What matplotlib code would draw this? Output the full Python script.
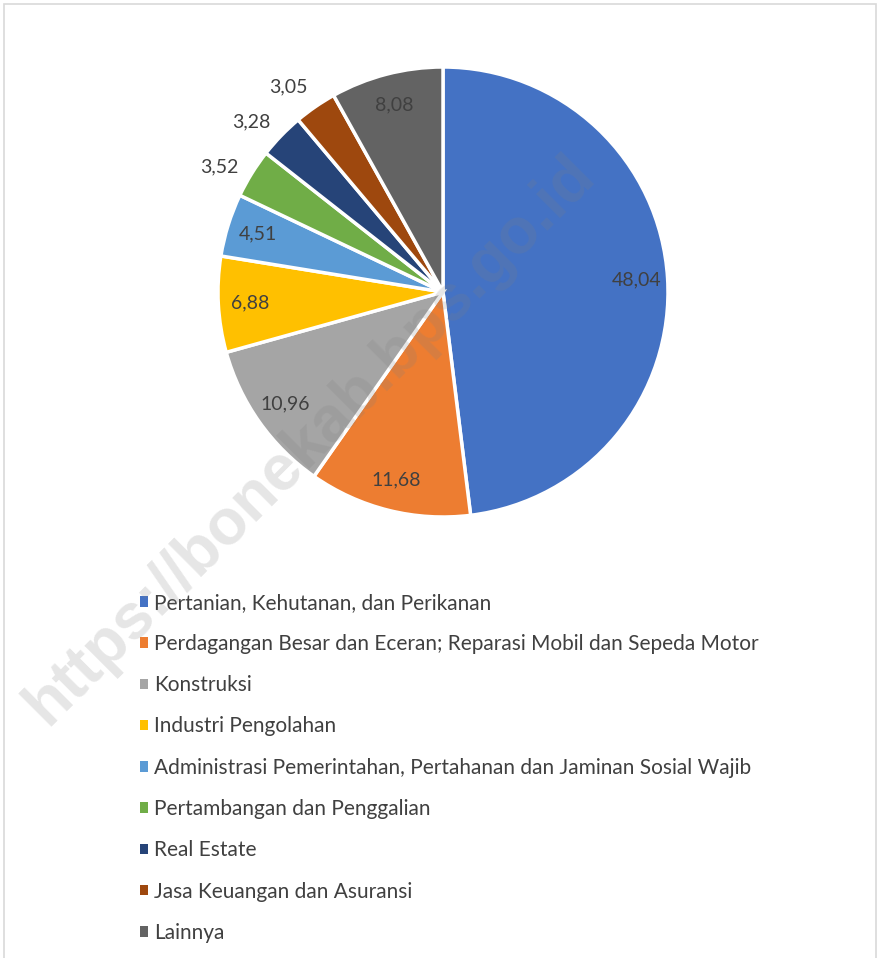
import numpy as np
import matplotlib
matplotlib.use("Agg")
import matplotlib.pyplot as plt
from matplotlib.patches import Rectangle

plt.rcParams['font.family'] = ['Lato', 'DejaVu Sans']

# data
sectors = ["Pertanian, Kehutanan, dan Perikanan",
           "Perdagangan Besar dan Eceran; Reparasi Mobil dan Sepeda Motor",
           "Konstruksi",
           "Industri Pengolahan",
           "Administrasi Pemerintahan, Pertahanan dan Jaminan Sosial Wajib",
           "Pertambangan dan Penggalian",
           "Real Estate",
           "Jasa Keuangan dan Asuransi",
           "Lainnya"]
shares = [48.04, 11.68, 10.96, 6.88, 4.51, 3.52, 3.28, 3.05, 8.08]
colors = ["#4472C4", "#ED7D31", "#A5A5A5", "#FFC000", "#5B9BD5",
          "#70AD47", "#264478", "#9E480E", "#636363"]
outside = [False, False, False, False, False, True, True, True, False]

W, H = 879, 958
fig = plt.figure(figsize=(W / 100, H / 100), dpi=100)

# chart area border
fig.patches.append(Rectangle((4 / W, -0.01), 872 / W, 1 - 4 / H + 0.01,
                             transform=fig.transFigure, fill=False,
                             edgecolor="#d9d9d9", linewidth=1.2))

cx, cy, r = 443, 292, 225
ax = fig.add_axes([(cx - r) / W, 1 - (cy + r) / H, 2 * r / W, 2 * r / H])
wedges, _ = ax.pie(shares, colors=colors, startangle=90, counterclock=False,
                   radius=1, wedgeprops=dict(edgecolor="white", linewidth=2.5))
ax.set_xlim(-1, 1)
ax.set_ylim(-1, 1)
ax.set_aspect("equal")
ax.axis("off")

txt_color = "#404040"
for w, v, out in zip(wedges, shares, outside):
    ang = np.deg2rad((w.theta1 + w.theta2) / 2)
    if out:
        # outside-end labels sit a bit further round, like Excel does
        ang += np.deg2rad(2.5)
        d = 1.14
    else:
        d = 0.86
    ax.text(d * np.cos(ang), d * np.sin(ang), f"{v:.2f}".replace(".", ","),
            ha="center", va="center", fontsize=14, color=txt_color,
            clip_on=False)

leg = fig.legend(wedges, sectors, loc="upper left",
                 bbox_to_anchor=(121 / W, 1 - 574 / H), frameon=False,
                 fontsize=15, labelcolor=txt_color, handlelength=0.4,
                 handleheight=0.4, handletextpad=0.3, labelspacing=1.02)
for h in leg.legend_handles:
    h.set_edgecolor("none")

# watermark
fig.text(310 / W, 1 - 440 / H, "https://bonekab.bps.go.id", rotation=45,
         ha="center", va="center", fontsize=46, fontweight="bold",
         family="Liberation Sans", color="#808080", alpha=0.2, zorder=10)

fig.savefig("out.png", dpi=100)
